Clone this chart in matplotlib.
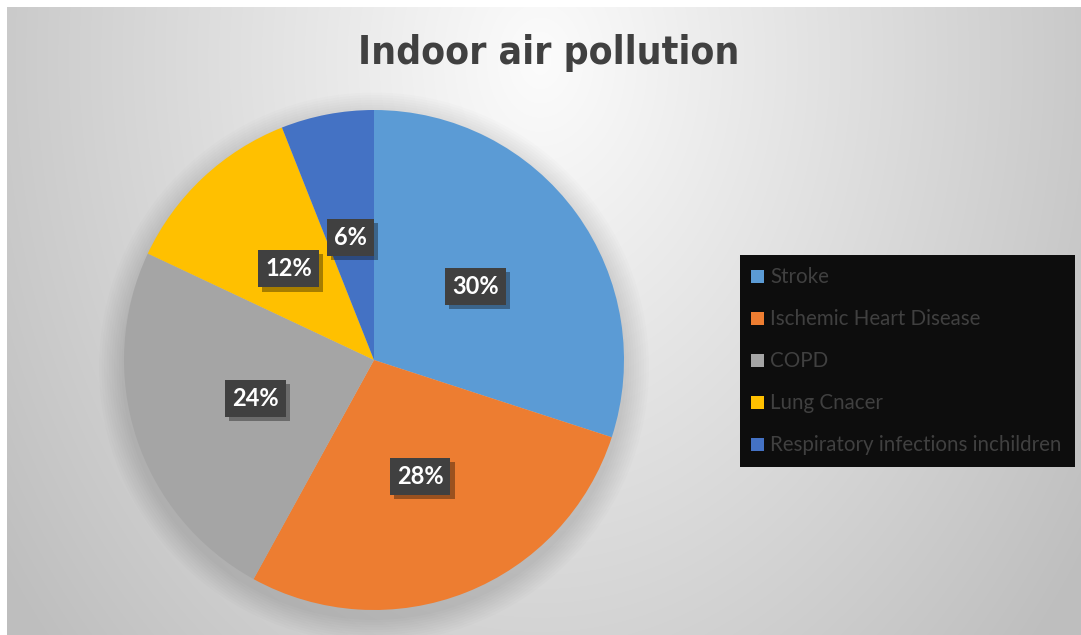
import numpy as np
import matplotlib
matplotlib.use("Agg")
import matplotlib.pyplot as plt
import matplotlib.patheffects as pe
from matplotlib.patches import Rectangle

categories = ["Stroke", "Ischemic Heart Disease", "COPD", "Lung Cnacer",
              "Respiratory infections inchildren"]
values = [30, 28, 24, 12, 6]
colors = ["#5b9bd5", "#ed7d31", "#a5a5a5", "#ffc000", "#4472c4"]
title = "Indoor air pollution"

W, H = 1081, 635
fig = plt.figure(figsize=(W / 100, H / 100), dpi=100)
fig.patch.set_facecolor("white")

# background radial gradient for chart area
x0, y0 = 7, 7
bg = fig.add_axes([x0 / W, 0, (W - x0) / W, (H - y0) / H])
xx, yy = np.meshgrid(np.arange(x0, W), np.arange(y0, H))
d = np.sqrt(((xx - 540) / 600.0) ** 2 + ((yy - 60) / 800.0) ** 2)
g = np.clip(252 - 56 * d, 190, 255) / 255.0
bg.imshow(np.dstack([g, g, g]), aspect="auto", extent=[0, 1, 0, 1], origin="upper")
bg.set_axis_off()

# pie
cx, cy, r = 374, 360, 250
ax = fig.add_axes([(cx - r) / W, (H - cy - r) / H, 2 * r / W, 2 * r / H])
# soft shadow
for i in range(10):
    c = plt.Circle((0.0, -0.03), 1.0 + 0.01 * (10 - i), color="black",
                   alpha=0.012, lw=0, zorder=0)
    c.set_clip_on(False)
    ax.add_patch(c)
wedges, texts, autotexts = ax.pie(
    values, colors=colors, startangle=90, counterclock=False,
    autopct=lambda p: f"{p:.0f}%", pctdistance=0.5,
    wedgeprops=dict(linewidth=0),
    textprops=dict(color="white", fontsize=17, fontweight="bold", family="Lato"))
for t in autotexts:
    t.set_bbox(dict(boxstyle="square,pad=0.3", facecolor="#404040", edgecolor="none"))
    t.get_bbox_patch().set_path_effects([
        pe.withSimplePatchShadow(offset=(3, -3), shadow_rgbFace="black", alpha=0.35),
        pe.Normal()])
ax.set_xlim(-1.0, 1.0)
ax.set_ylim(-1.0, 1.0)
ax.set_axis_off()

# title
fig.text(549 / W, 1 - 53 / H, title, ha="center", va="center", fontsize=28,
         fontweight="bold", fontstretch="condensed", color="#404040",
         family="DejaVu Sans")

# legend box
lx0, ly0, lx1, ly1 = 740, 255, 1075, 467
fig.patches.append(Rectangle((lx0 / W, 1 - ly1 / H), (lx1 - lx0) / W, (ly1 - ly0) / H,
                             transform=fig.transFigure, facecolor="#0d0d0d",
                             edgecolor="none", zorder=1))
leg = fig.legend(wedges, categories, loc="upper left",
                 bbox_to_anchor=(735 / W, 1 - 251 / H), frameon=False,
                 prop=dict(family="Lato", size=14.8),
                 labelcolor="#404040", handlelength=0.62, handleheight=0.62,
                 handletextpad=0.3, labelspacing=1.07, borderpad=0.3)
leg.set_zorder(2)

fig.savefig("out.png", dpi=100)
